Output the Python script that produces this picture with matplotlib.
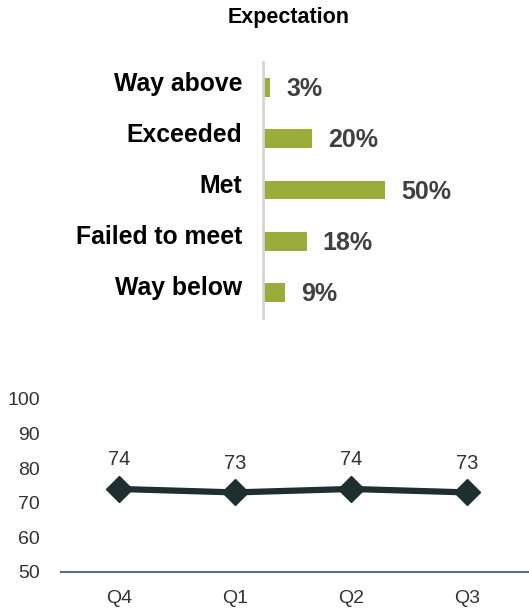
import matplotlib.pyplot as plt
from matplotlib.transforms import blended_transform_factory, offset_copy

plt.rcParams['font.family'] = ['Liberation Sans', 'DejaVu Sans']

# Expectation breakdown (top panel)
categories = ['Way above', 'Exceeded', 'Met', 'Failed to meet', 'Way below']
shares = [3, 20, 50, 18, 9]

# Quarterly score (bottom panel)
quarters = ['Q4', 'Q1', 'Q2', 'Q3']
scores = [74, 73, 74, 73]
y_ticks = [50, 60, 70, 80, 90, 100]

W, H = 529, 610
BAR_GREEN = '#9aad3a'
LINE_DARK = '#1f2e2e'

fig = plt.figure(figsize=(W / 100, H / 100), dpi=100)


def px_axes(x0, y0, x1, y1):
    """Axes from pixel box (top-left origin)."""
    return fig.add_axes([x0 / W, 1 - y1 / H, (x1 - x0) / W, (y1 - y0) / H])


fig.text(289 / W, 1 - 18 / H, 'Expectation', ha='center', va='center',
         fontsize=15.5, fontweight='bold', color='black')

# --- bar panel
ax = px_axes(263, 62, 529, 318)
ypos = list(range(len(categories)))
ax.barh(ypos, shares, height=0.37, color=BAR_GREEN, left=0)
ax.set_xlim(0, 109)
ax.set_ylim(4.5, -0.5)
for s in ['top', 'right', 'bottom']:
    ax.spines[s].set_visible(False)
ax.spines['left'].set_color('#d4d4d4')
ax.spines['left'].set_linewidth(2)
ax.set_xticks([])
ax.set_yticks([])

trans = blended_transform_factory(ax.transAxes, ax.transData)
lab_trans = offset_copy(trans, fig=fig, x=0, y=4, units='dots')
for y, cat, val in zip(ypos, categories, shares):
    ax.text(-21 / 266, y, cat, transform=lab_trans, ha='right', va='center',
            fontsize=17.8, fontweight='bold', color='black')
    ax.text(val + 6.5, y + 0.03, f'{val}%', ha='left', va='center',
            fontsize=18, fontweight='bold', color='#404040')

# --- line panel
ax2 = px_axes(61, 399, 529, 572)
x = list(range(len(quarters)))
ax2.plot(x, scores, color=LINE_DARK, lw=4.5, marker='D', markersize=13,
         solid_capstyle='round', zorder=3)
for xi, v in zip(x, scores):
    ax2.annotate(f'{v}', (xi, v), xytext=(0, 21), textcoords='offset points',
                 ha='center', va='center', fontsize=14.5, color='#333333')
ax2.set_xlim(-0.5, 3.53)
ax2.set_ylim(50, 100)
ax2.set_yticks(y_ticks)
ax2.set_xticks(x)
ax2.set_xticklabels(quarters)
for s in ['top', 'right', 'left']:
    ax2.spines[s].set_visible(False)
ax2.spines['bottom'].set_color('#5d6d7e')
ax2.spines['bottom'].set_linewidth(1.5)
ax2.tick_params(axis='both', length=0, labelsize=14, colors='#333333')
ax2.tick_params(axis='y', pad=15)
ax2.tick_params(axis='x', pad=13)

fig.savefig('out.png', dpi=100)
